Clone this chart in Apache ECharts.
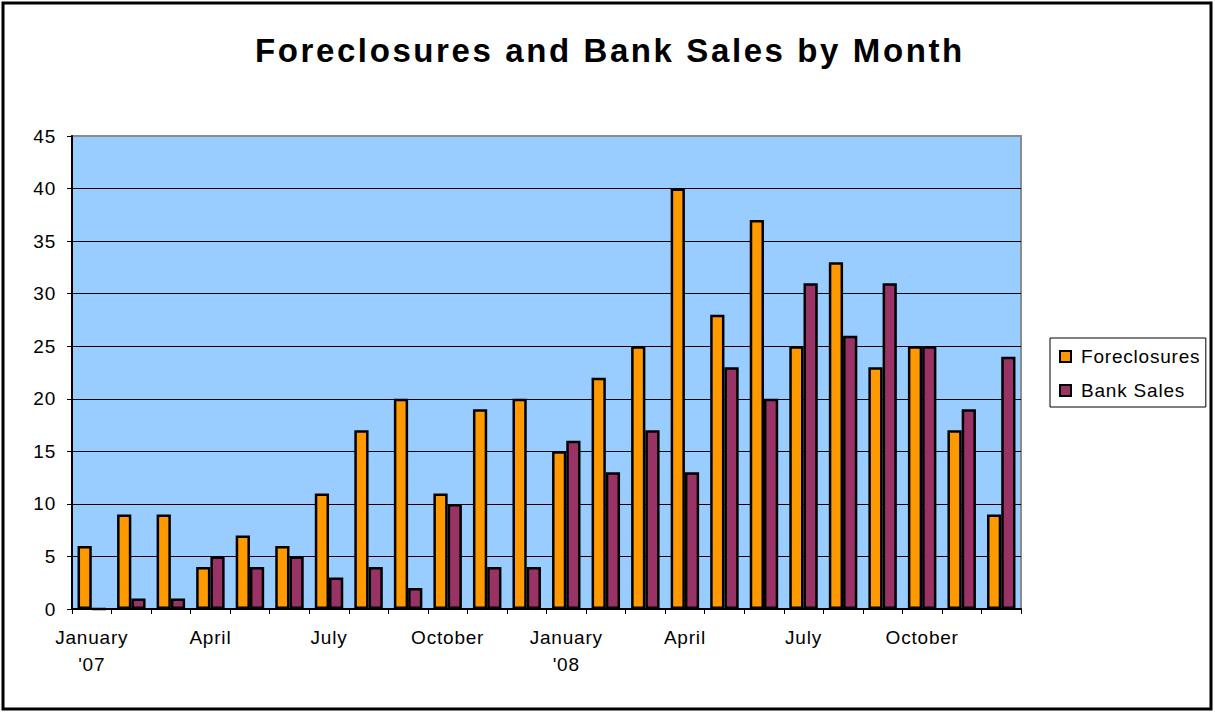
<!DOCTYPE html>
<html>
<head>
<meta charset="utf-8">
<script src="https://cdn.jsdelivr.net/npm/echarts@6/dist/echarts.min.js"></script>
<style>
  html, body { margin: 0; padding: 0; background: #fff; }
  #chart { width: 1215px; height: 713px; }
  /* slightly loose tracking for all chart text, wider for the title */
  #chart text { letter-spacing: 0.8px; }
  #chart text[style*="33px"] { letter-spacing: 2.6px; }
</style>
</head>
<body>
<div id="chart"></div>
<script>
// Monthly counts, January 2007 through December 2008
const months = [
  "January\n'07", "February", "March", "April", "May", "June",
  "July", "August", "September", "October", "November", "December",
  "January\n'08", "February", "March", "April", "May", "June",
  "July", "August", "September", "October", "November", "December"
];
const foreclosures = [6, 9, 9, 4, 7, 6, 11, 17, 20, 11, 19, 20,
                      15, 22, 25, 40, 28, 37, 25, 33, 23, 25, 17, 9];
const bankSales = [0, 1, 1, 5, 4, 5, 3, 4, 2, 10, 4, 4,
                   16, 13, 17, 13, 23, 20, 31, 26, 31, 25, 19, 24];
const yTicks = { min: 0, max: 45, step: 5 };

const FONT = '"Liberation Sans", Arial, sans-serif';
const chart = echarts.init(document.getElementById('chart'), null, { renderer: 'svg' });

// gridlines are black; the top one doubles as the grey plot-area border
const gridLineColors = [];
for (let v = yTicks.min; v <= yTicks.max; v += yTicks.step) {
  gridLineColors.push(v === yTicks.max ? '#8c8c8c' : '#000');
}

chart.setOption({
  animation: false,
  backgroundColor: '#ffffff',
  title: {
    text: 'Foreclosures and Bank Sales by Month',
    left: 255,
    top: 34,
    padding: 0,
    textStyle: { fontFamily: FONT, fontSize: 33, fontWeight: 'bold', color: '#000' }
  },
  legend: {
    orient: 'vertical',
    left: 1050,
    top: 338,
    padding: [9, 15, 7, 9],
    itemGap: 15,
    itemWidth: 11,
    itemHeight: 11,
    icon: 'rect',
    backgroundColor: '#fff',
    borderColor: '#000',
    borderWidth: 1,
    borderRadius: 0,
    itemStyle: { borderColor: '#000', borderWidth: 2 },
    textStyle: { fontFamily: FONT, fontSize: 19, color: '#000', padding: [0, 0, 0, 5] }
  },
  grid: {
    left: 72, top: 136, right: 194, bottom: 104,
    show: true,
    backgroundColor: '#99CCFF',
    borderColor: '#8c8c8c',
    borderWidth: 2
  },
  xAxis: {
    type: 'category',
    data: months,
    axisLine: { lineStyle: { color: '#000', width: 2 } },
    axisTick: { show: true, interval: 0, length: 5, lineStyle: { color: '#000' } },
    axisLabel: {
      interval: 2,
      margin: 15,
      fontFamily: FONT,
      fontSize: 19,
      color: '#000',
      lineHeight: 27
    }
  },
  yAxis: {
    type: 'value',
    min: yTicks.min,
    max: yTicks.max,
    interval: yTicks.step,
    axisLine: { show: true, lineStyle: { color: '#000', width: 2 } },
    axisTick: { show: true, length: 5, lineStyle: { color: '#000' } },
    axisLabel: { margin: 16, fontFamily: FONT, fontSize: 19, color: '#000' },
    splitLine: { lineStyle: { color: gridLineColors, width: 1 } }
  },
  series: [
    {
      name: 'Foreclosures',
      type: 'bar',
      data: foreclosures,
      barGap: '0%',
      barCategoryGap: '28%',
      itemStyle: { color: '#FF9900', borderColor: '#000', borderWidth: 2.5 }
    },
    {
      name: 'Bank Sales',
      type: 'bar',
      data: bankSales,
      itemStyle: { color: '#993366', borderColor: '#000', borderWidth: 2.5 }
    }
  ],
  graphic: [
    {
      type: 'rect',
      shape: { x: 3, y: 3, width: 1208, height: 706 },
      style: { fill: null, stroke: '#000', lineWidth: 3 },
      silent: true
    }
  ]
});
</script>
</body>
</html>
